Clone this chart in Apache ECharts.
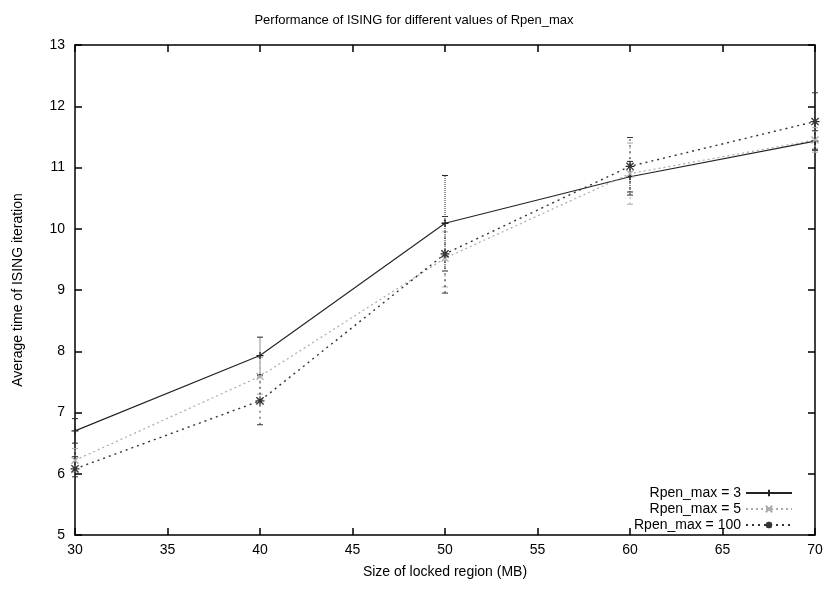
<!DOCTYPE html>
<html><head><meta charset="utf-8">
<script src="https://cdn.jsdelivr.net/npm/echarts@6/dist/echarts.min.js"></script>
<style>html,body{margin:0;padding:0;background:#fff}#c{width:828px;height:589px}</style>
</head><body><div id="c"></div>
<script>
const sizes = [30, 40, 50, 60, 70];
const xTicks = [30, 35, 40, 45, 50, 55, 60, 65, 70];
const yTicks = [5, 6, 7, 8, 9, 10, 11, 12, 13];
const seriesNames = ['Rpen_max = 3', 'Rpen_max = 5', 'Rpen_max = 100'];
const r3 = [6.70, 7.93, 10.09, 10.85, 11.43];
const r3Low = [6.50, 7.62, 9.31, 10.60, 11.28];
const r3High = [6.90, 8.23, 10.87, 11.10, 11.60];
const r5 = [6.22, 7.59, 9.52, 10.90, 11.45];
const r5Low = [6.03, 7.30, 9.05, 10.40, 11.25];
const r5High = [6.41, 7.90, 9.95, 11.40, 11.65];
const r100 = [6.08, 7.19, 9.59, 11.02, 11.75];
const r100Low = [5.95, 6.80, 8.95, 10.55, 11.30];
const r100High = [6.28, 7.60, 10.20, 11.49, 12.22];

const FONT = '"Liberation Sans", Arial, sans-serif';
const chart = echarts.init(document.getElementById('c'), null, {renderer: 'canvas'});

const styles = [
  {color: '#222', dash: 'solid', width: 1.1, sym: 'path://M0,5L10,5M5,0L5,10', symSize: 7},
  {color: '#aaa', dash: [2, 3], width: 1.2, sym: 'path://M0,0L10,10M10,0L0,10', symSize: 7},
  {color: '#333', dash: [2, 4], width: 1.4, sym: 'path://M0,5L10,5M5,0L5,10M1,1L9,9M9,1L1,9', symSize: 9}
];
const vals = [r3, r5, r100];
const lows = [r3Low, r5Low, r100Low];
const highs = [r3High, r5High, r100High];

function errSeries(i) {
  const data = sizes.map((x, k) => [x, lows[i][k], highs[i][k]]);
  const st = styles[i];
  return {
    type: 'custom', name: seriesNames[i] + ' err', data: data, z: 3,
    itemStyle: {color: st.color},
    renderItem: function (params, api) {
      const x = api.value(0);
      const lo = api.coord([x, api.value(1)]);
      const hi = api.coord([x, api.value(2)]);
      const w = 3;
      const s = {stroke: st.color, lineWidth: 1, lineDash: st.dash === 'solid' ? [1, 1] : st.dash};
      return {type: 'group', children: [
        {type: 'line', shape: {x1: lo[0], y1: lo[1], x2: hi[0], y2: hi[1]}, style: s},
        {type: 'line', shape: {x1: lo[0] - w, y1: lo[1], x2: lo[0] + w, y2: lo[1]}, style: {stroke: st.color, lineWidth: 1}},
        {type: 'line', shape: {x1: hi[0] - w, y1: hi[1], x2: hi[0] + w, y2: hi[1]}, style: {stroke: st.color, lineWidth: 1}}
      ]};
    },
    encode: {x: 0, y: [1, 2]}
  };
}

function lineSeries(i) {
  const st = styles[i];
  return {
    type: 'line', name: seriesNames[i], z: 4,
    color: st.color,
    data: sizes.map((x, k) => [x, vals[i][k]]),
    symbol: st.sym, symbolSize: st.symSize, showSymbol: true,
    lineStyle: {color: st.color, width: st.width, type: st.dash},
    itemStyle: {color: 'rgba(0,0,0,0)', borderColor: st.color, borderWidth: 1.3},
    emphasis: {disabled: true}, animation: false
  };
}

const axisCommon = {
  axisLine: {show: true, onZero: false, lineStyle: {color: '#000', width: 1.5}},
  axisTick: {show: true, inside: true, length: 7, lineStyle: {color: '#000', width: 1.5}},
  splitLine: {show: false}
};

chart.setOption({
  animation: false,
  backgroundColor: '#fff',
  title: {
    text: 'Performance of ISING for different values of Rpen_max',
    left: 'center', top: 9,
    textStyle: {fontFamily: FONT, fontSize: 13, fontWeight: 'normal', color: '#000'}
  },
  grid: {left: 75, right: 13, top: 45, bottom: 54},
  legend: {
    right: 30, bottom: 52, orient: 'vertical', align: 'right',
    itemWidth: 46, itemHeight: 8, itemGap: 2,
    data: seriesNames.map(n => ({name: n})),
    textStyle: {fontFamily: FONT, fontSize: 14, color: '#000'},
    backgroundColor: 'rgba(0,0,0,0)'
  },
  xAxis: [
    Object.assign({
      type: 'value', min: xTicks[0], max: xTicks[xTicks.length - 1], interval: 5,
      name: 'Size of locked region (MB)', nameLocation: 'middle', nameGap: 30,
      nameTextStyle: {fontFamily: FONT, fontSize: 14, color: '#000'},
      axisLabel: {fontFamily: FONT, fontSize: 14, color: '#000', margin: 8}
    }, axisCommon),
    Object.assign({
      type: 'value', position: 'top', min: xTicks[0], max: xTicks[xTicks.length - 1], interval: 5,
      axisLabel: {show: false}
    }, axisCommon)
  ],
  yAxis: [
    Object.assign({
      type: 'value', min: yTicks[0], max: yTicks[yTicks.length - 1], interval: 1,
      name: 'Average time of ISING iteration', nameLocation: 'middle', nameGap: 50, nameRotate: 90,
      nameTextStyle: {fontFamily: FONT, fontSize: 14, color: '#000'},
      axisLabel: {fontFamily: FONT, fontSize: 14, color: '#000', margin: 10}
    }, axisCommon),
    Object.assign({
      type: 'value', position: 'right', min: yTicks[0], max: yTicks[yTicks.length - 1], interval: 1,
      axisLabel: {show: false}
    }, axisCommon)
  ],
  series: [lineSeries(0), lineSeries(1), lineSeries(2), errSeries(0), errSeries(1), errSeries(2)]
});
</script></body></html>
